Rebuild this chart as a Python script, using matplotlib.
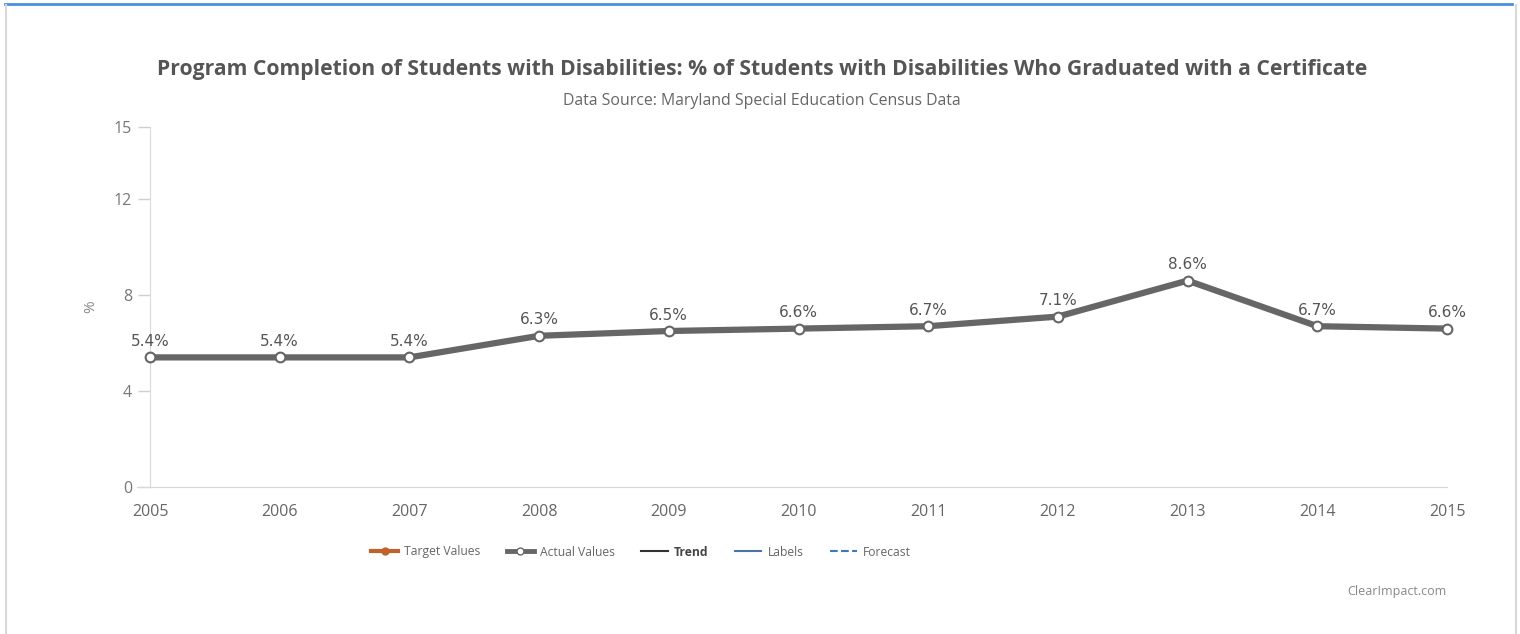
import matplotlib.pyplot as plt
from matplotlib.lines import Line2D

plt.rcParams['font.family'] = ['Open Sans', 'DejaVu Sans']

# ─── DATA ───────────────────────────────────────────────
years  = [2005, 2006, 2007, 2008, 2009, 2010, 2011, 2012, 2013, 2014, 2015]
actual = [5.4, 5.4, 5.4, 6.3, 6.5, 6.6, 6.7, 7.1, 8.6, 6.7, 6.6]
y_ticks = [0, 4, 8, 12, 15]
legend_names = ['Target Values', 'Actual Values', 'Trend', 'Labels', 'Forecast']

title = ('Program Completion of Students with Disabilities: '
         '% of Students with Disabilities Who Graduated with a Certificate')
subtitle = 'Data Source: Maryland Special Education Census Data'

W, H = 1520, 634
fig = plt.figure(figsize=(W / 100, H / 100), dpi=100)
fig.patch.set_facecolor('white')

# panel frame (blue top, gray sides)
fig.add_artist(Line2D([5 / W, 1512 / W], [1 - 4 / H, 1 - 4 / H], color='#4a8fdf', lw=2))
fig.add_artist(Line2D([6 / W, 6 / W], [0, 1 - 5 / H], color='#d8d8d8', lw=1.5))
fig.add_artist(Line2D([1516 / W, 1516 / W], [0, 1 - 5 / H], color='#d8d8d8', lw=1.5))

ax = fig.add_axes([150 / W, 1 - 487 / H, (1447 - 150) / W, (487 - 127) / H])
ax.set_facecolor('none')

ax.plot(years, actual, color='#666666', lw=4.5, solid_capstyle='round',
        marker='o', markersize=7, markerfacecolor='white',
        markeredgecolor='#666666', markeredgewidth=1.5, zorder=3, clip_on=False)

for x, v in zip(years, actual):
    ax.annotate(f'{v}%', (x, v), xytext=(0, 6), textcoords='offset points',
                ha='center', va='bottom', fontsize=11, color='#555555',
                family='DejaVu Sans')

ax.set_xlim(years[0], years[-1])
ax.set_ylim(0, 15)
ax.set_yticks(y_ticks)
ax.set_xticks(years)
ax.tick_params(axis='y', colors='#d0d0d0', length=9, width=1, labelcolor='#777777',
               labelsize=11.5, pad=4)
ax.tick_params(axis='x', length=0, labelcolor='#666666', labelsize=11.5, pad=12)

for s in ['top', 'right']:
    ax.spines[s].set_visible(False)
ax.spines['left'].set_color('#d8d8d8')
ax.spines['bottom'].set_color('#d8d8d8')
ax.spines['bottom'].set_bounds(2004.9, 2015)
ax.set_ylabel('%', color='#888888', fontsize=11, labelpad=11)

fig.text(762 / W, 1 - 70 / H, title, ha='center', va='center', fontsize=15.2,
         fontweight='bold', color='#555555')
fig.text(762 / W, 1 - 101 / H, subtitle, ha='center', va='center', fontsize=11.4,
         color='#666666')
fig.text(1397 / W, 1 - 591 / H, 'ClearImpact.com', ha='center', va='center',
         fontsize=9, color='#888888')

# ─── LEGEND ─────────────────────────────────────────────
handles = [
    Line2D([], [], color='#c0632b', lw=3, marker='o', markersize=5, markevery=[1]),
    Line2D([], [], color='#666666', lw=3.5, marker='o', markersize=5,
           markerfacecolor='white', markeredgecolor='#666666'),
    Line2D([], [], color='#333333', lw=1.5),
    Line2D([], [], color='#4a74a8', lw=1.5),
    Line2D([], [], color='#3b78c0', lw=1.5, ls='--'),
]
leg = fig.legend(handles, legend_names, loc='center', bbox_to_anchor=(641 / W, 1 - 552 / H),
                 ncol=5, frameon=False, fontsize=8.7, handlelength=2.2,
                 columnspacing=2.2, handletextpad=0.5)
for t in leg.get_texts():
    t.set_color('#666666')
leg.get_texts()[2].set_fontweight('bold')
leg.get_texts()[2].set_color('#444444')

fig.savefig('out.png', dpi=100)
